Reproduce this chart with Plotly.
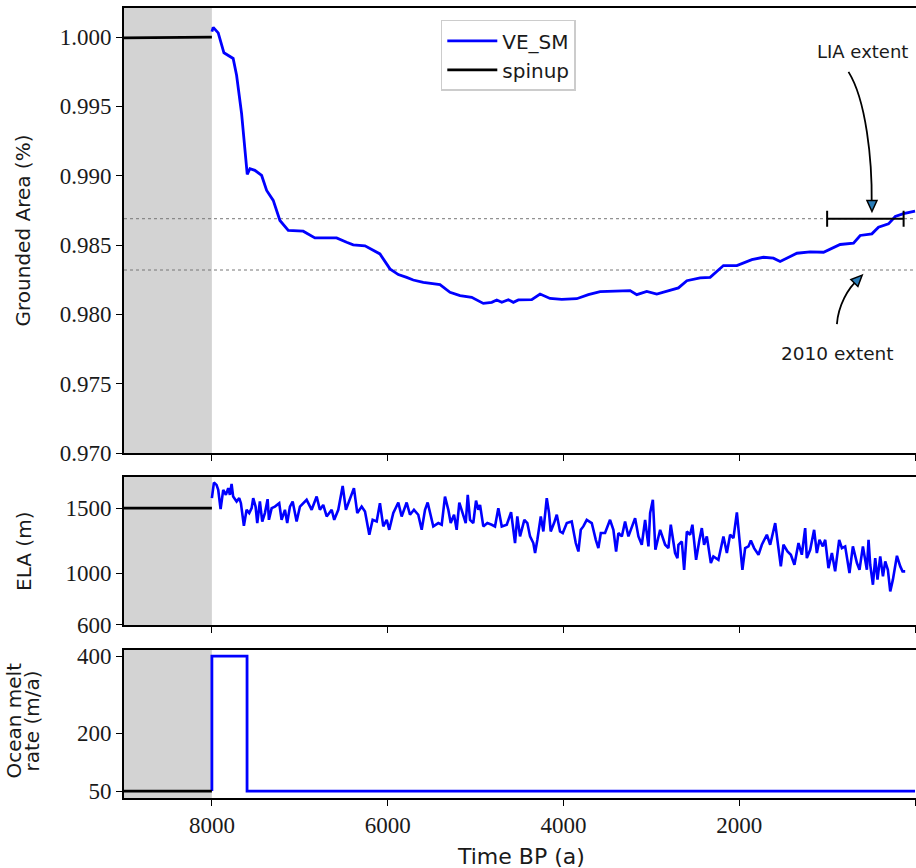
import plotly.graph_objects as go
from plotly.subplots import make_subplots

# ---------------- data ----------------
spinup_t = [9000, 8000]
spinup_area = [0.99995, 1.0000]
spinup_ela = [1500, 1500]
spinup_melt = [50, 50]

area_t = [8000, 7985, 7928, 7863, 7758, 7719, 7662, 7624, 7598, 7567, 7511, 7434, 7377, 7302,
          7226, 7131, 6961, 6828, 6581, 6467, 6392, 6258, 6088, 5974, 5879, 5784, 5709, 5595,
          5405, 5291, 5177, 5044, 4912, 4816, 4759, 4702, 4627, 4570, 4513, 4361, 4266, 4153,
          4019, 3849, 3717, 3583, 3413, 3242, 3166, 3052, 2938, 2806, 2692, 2596, 2445, 2331,
          2180, 2027, 1857, 1725, 1611, 1535, 1344, 1193, 1041, 852, 700, 624, 491, 416, 302,
          225, 131, 0]
area_v = [1.0004, 1.0007, 1.0003, 0.99887, 0.99846, 0.99725, 0.99448, 0.99207, 0.99010, 0.99051,
          0.99039, 0.99002, 0.98894, 0.98822, 0.98677, 0.98605, 0.98600, 0.98552, 0.98552,
          0.98520, 0.98501, 0.98494, 0.98436, 0.98328, 0.98287, 0.98267, 0.98248, 0.98231,
          0.98214, 0.98159, 0.98135, 0.98123, 0.98079, 0.98087, 0.98104, 0.98087, 0.98106,
          0.98087, 0.98104, 0.98106, 0.98147, 0.98115, 0.98108, 0.98113, 0.98142, 0.98164,
          0.98166, 0.98171, 0.98142, 0.98166, 0.98147, 0.98171, 0.98191, 0.98243, 0.98263,
          0.98267, 0.98352, 0.98352, 0.98395, 0.98412, 0.98405, 0.98381, 0.98441, 0.98451,
          0.98448, 0.98504, 0.98513, 0.98569, 0.98581, 0.98629, 0.98653, 0.98706, 0.98726,
          0.98744]

ela_t = [8000, 7977, 7947, 7928, 7901, 7871, 7841, 7814, 7795, 7776, 7758, 7719, 7689, 7670, 7636,
         7605, 7575, 7548, 7530, 7503, 7484, 7454, 7427, 7397, 7366, 7351, 7320, 7283, 7234, 7207,
         7169, 7143, 7112, 7081, 7036, 6998, 6922, 6865, 6808, 6771, 6733, 6694, 6637, 6608, 6562,
         6512, 6475, 6437, 6384, 6346, 6296, 6258, 6209, 6171, 6125, 6088, 6050, 6011, 5982, 5936,
         5879, 5841, 5784, 5746, 5701, 5652, 5613, 5575, 5545,
         5481, 5424, 5385, 5348, 5310, 5283, 5245, 5215, 5185, 5140, 5112, 5089, 5063, 5026, 4995,
         4969, 4949, 4912, 4866, 4816, 4779, 4741, 4702, 4645, 4596, 4551, 4525, 4494, 4445, 4411,
         4380, 4343, 4323, 4297, 4258, 4229, 4190, 4164, 4145, 4107, 4076, 4039, 4008, 3962, 3906,
         3860, 3830, 3803, 3774, 3735, 3678, 3632, 3603, 3575, 3527, 3470, 3432, 3401, 3375, 3336,
         3299, 3261, 3223, 3185, 3147, 3109, 3071, 3033, 3014, 2983, 2954, 2900, 2843, 2806, 2779,
         2730, 2703,
         2692, 2653, 2627, 2596, 2559, 2533, 2491, 2453, 2426, 2400, 2369, 2323, 2294, 2237, 2180,
         2141, 2104, 2066, 2027, 1990, 1964, 1933, 1895, 1868, 1831, 1781, 1743, 1686, 1648, 1591,
         1554, 1527, 1497, 1451, 1413, 1372, 1326, 1288, 1250, 1231, 1193, 1148, 1117, 1087, 1049,
         1022, 985, 946, 909, 863, 832, 795, 746, 707, 661, 632, 593, 548, 529, 510, 479, 453, 427,
         396, 365, 339, 309, 282, 252, 206, 168, 142, 112]
ela_v = [1577, 1697, 1679, 1641, 1492, 1641, 1602, 1654, 1602, 1687, 1589, 1551, 1577, 1538, 1364,
         1487, 1462, 1500, 1577, 1512, 1385, 1551, 1397, 1462, 1569, 1410, 1500, 1512, 1538, 1410,
         1487, 1385, 1512, 1551, 1397, 1512, 1564, 1487, 1589, 1487, 1525, 1436, 1487, 1410, 1487,
         1671, 1487, 1564, 1654, 1462, 1512, 1474, 1295, 1410, 1397, 1538, 1359, 1410, 1333, 1462,
         1543, 1436, 1543, 1449, 1487, 1449, 1333, 1487, 1543,
         1359, 1385, 1372, 1589, 1487, 1385, 1449, 1333, 1543, 1436, 1385, 1602, 1410, 1385, 1558,
         1487, 1525, 1359, 1385, 1372, 1359, 1500, 1359, 1372, 1469, 1231, 1436, 1282, 1410, 1385,
         1282, 1231, 1154, 1256, 1436, 1320, 1577, 1462, 1320, 1385, 1449, 1320, 1308, 1385, 1397,
         1231, 1166, 1333, 1359, 1410, 1385, 1256, 1192, 1308, 1308, 1410, 1333, 1166, 1308, 1282,
         1397, 1282, 1359, 1423, 1282, 1218, 1410, 1205, 1462, 1564, 1179, 1333, 1218, 1192, 1372,
         1154, 1115,
         1218, 1243, 1025, 1320, 1295, 1372, 1102, 1256, 1346, 1218, 1282, 1077, 1128, 1102, 1282,
         1154, 1295, 1269, 1467, 1205, 1025, 1192, 1205, 1251, 1192, 1141, 1218, 1295, 1218, 1385,
         1205, 1051, 1218, 1166, 1141, 1064, 1231, 1141, 1346, 1115, 1179, 1333, 1154, 1256, 1205,
         1256, 1038, 1154, 1013, 1256, 1192, 1205, 1000, 1205, 1077, 1025, 1205, 1025, 1256, 1064,
         910, 1115, 949, 1128, 974, 1089, 1025, 858, 949, 1133, 1051, 1013, 1013]

melt_t = [8000, 8000, 7600, 7600, 0]
melt_v = [50, 400, 400, 50, 50]

spinup_window = [9000, 8000]
lia_level = 0.9869
extent_2010 = 0.9832
lia_start, lia_end = 1000, 130

x_ticks = [8000, 6000, 4000, 2000, 0]
area_ticks = [0.970, 0.975, 0.980, 0.985, 0.990, 0.995, 1.000]
ela_ticks = [600, 1000, 1500]
melt_ticks = [50, 200, 400]

# ---------------- figure ----------------
BLUE = "#0000ff"
SANS = "DejaVu Sans"
SERIF = "Liberation Serif"
TXT = "#1a1a1a"

fig = make_subplots(rows=3, cols=1, shared_xaxes=True)

fig.add_trace(go.Scatter(x=area_t, y=area_v, mode="lines", name="VE_SM",
                         line=dict(color=BLUE, width=2.8)), row=1, col=1)
fig.add_trace(go.Scatter(x=spinup_t, y=spinup_area, mode="lines", name="spinup",
                         line=dict(color="black", width=2.8)), row=1, col=1)
lia_c = (lia_start + lia_end) / 2
fig.add_trace(go.Scatter(x=[lia_c], y=[lia_level], mode="markers", showlegend=False,
                         marker=dict(size=1, color="rgba(0,0,0,0)"),
                         error_x=dict(type="data", array=[(lia_start - lia_end) / 2], color="black",
                                      thickness=2, width=8)), row=1, col=1)

fig.add_trace(go.Scatter(x=ela_t, y=ela_v, mode="lines", showlegend=False,
                         line=dict(color=BLUE, width=2.6)), row=2, col=1)
fig.add_trace(go.Scatter(x=spinup_t, y=spinup_ela, mode="lines", showlegend=False,
                         line=dict(color="black", width=2.8)), row=2, col=1)

fig.add_trace(go.Scatter(x=melt_t, y=melt_v, mode="lines", showlegend=False,
                         line=dict(color=BLUE, width=2.8)), row=3, col=1)
fig.add_trace(go.Scatter(x=spinup_t, y=spinup_melt, mode="lines", showlegend=False,
                         line=dict(color="black", width=2.8)), row=3, col=1)

# gray spinup window
for r in (1, 2, 3):
    fig.add_vrect(x0=spinup_window[0], x1=spinup_window[1], fillcolor="#d3d3d3", opacity=1,
                  line_width=0, layer="below", row=r, col=1)

# dotted reference lines
for lvl in (lia_level, extent_2010):
    fig.add_shape(type="line", xref="x domain", yref="y", x0=0, x1=1, y0=lvl, y1=lvl,
                  line=dict(color="#777777", width=1, dash="dot"), layer="below")

# curved arrows
ARROW_FILL = "#2a7db8"
fig.add_shape(type="path", xref="x", yref="y",
              path="M 757,0.99749 C 556,0.99545 487,0.99111 493,0.98800",
              line=dict(color="black", width=1.8))
fig.add_shape(type="path", xref="x", yref="y", xsizemode="pixel", ysizemode="pixel",
              xanchor=490, yanchor=0.98742,
              path="M 0,0 L -5,11 L 5,11 Z", fillcolor=ARROW_FILL,
              line=dict(color="black", width=1.5))
fig.add_shape(type="path", xref="x", yref="y",
              path="M 889,0.97930 C 874,0.98063 760,0.98193 658,0.98243",
              line=dict(color="black", width=1.8))
fig.add_shape(type="path", xref="x", yref="y", xsizemode="pixel", ysizemode="pixel",
              xanchor=601, yanchor=0.98283,
              path="M 0,0 L -11.3,-4.3 L -4.3,-11.3 Z", fillcolor=ARROW_FILL,
              line=dict(color="black", width=1.5))

fig.add_annotation(text="LIA extent", x=600, y=0.99895, xref="x", yref="y", showarrow=False,
                   xanchor="center", yanchor="middle",
                   font=dict(family=SANS, size=18, color=TXT))
fig.add_annotation(text="2010 extent", x=880, y=0.97720, xref="x", yref="y", showarrow=False,
                   xanchor="center", yanchor="middle",
                   font=dict(family=SANS, size=18.5, color=TXT))

# axis titles as annotations
domains = [[0.4781, 0.9908], [0.2800, 0.4505], [0.0806, 0.2512]]
title_x = -0.1263
for txt, dom in (("Grounded Area (%)", domains[0]), ("ELA (m)", domains[1])):
    fig.add_annotation(text=txt, x=title_x, y=(dom[0] + dom[1]) / 2, xref="paper",
                       yref="paper", textangle=-90, showarrow=False, xanchor="center",
                       yanchor="middle", font=dict(family=SANS, size=20, color=TXT))
for txt, xx in (("Ocean melt", -0.1389), ("rate (m/a)", -0.1162)):
    fig.add_annotation(text=txt, x=xx, y=(domains[2][0] + domains[2][1]) / 2 + 0.004,
                       xref="paper", yref="paper", textangle=-90, showarrow=False,
                       xanchor="center", yanchor="middle",
                       font=dict(family=SANS, size=20, color=TXT))
fig.add_annotation(text="Time BP (a)", x=0.5013, y=0.0127, xref="paper", yref="paper",
                   xanchor="center", yanchor="middle",
                   showarrow=False, font=dict(family=SANS, size=22, color=TXT))

tickfont = dict(family=SERIF, size=23, color=TXT)
for i in range(3):
    fig.update_xaxes(row=i + 1, col=1, range=[9000, -11], mirror=True, tickvals=x_ticks,
                     showticklabels=(i == 2), domain=[0, 1], automargin=False,
                     showline=True, linecolor="black", linewidth=1.6, ticks="outside",
                     ticklen=6, tickwidth=1.4, tickcolor="black", showgrid=False,
                     zeroline=False, tickfont=tickfont)
y_specs = [dict(range=[0.970, 1.0021], tickvals=area_ticks, tickformat=".3f"),
           dict(range=[600, 1740], tickvals=ela_ticks),
           dict(range=[32, 416], tickvals=melt_ticks)]
for i in range(3):
    fig.update_yaxes(row=i + 1, col=1, domain=domains[i], automargin=False,
                     showline=True, linecolor="black", linewidth=1.6, ticks="outside",
                     ticklen=6, tickwidth=1.4, tickcolor="black", showgrid=False,
                     zeroline=False, tickfont=tickfont, **y_specs[i])

fig.update_layout(
    template="none",
    width=916, height=868, margin=dict(l=124, r=0, t=0, b=0, autoexpand=False),
    plot_bgcolor="white", paper_bgcolor="white",
    legend=dict(x=0.40, y=0.977, xanchor="left", yanchor="top", bgcolor="white",
                bordercolor="#cccccc", borderwidth=1.5, itemwidth=50,
                font=dict(family=SANS, size=20, color=TXT)),
    showlegend=True,
)

fig.write_html("out.html")
